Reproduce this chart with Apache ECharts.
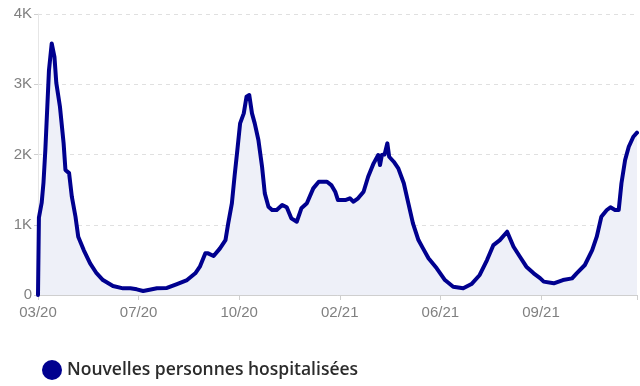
<!DOCTYPE html>
<html>
<head>
<meta charset="utf-8">
<script src="https://cdn.jsdelivr.net/npm/echarts@6/dist/echarts.min.js"></script>
<style>
html,body{margin:0;padding:0;background:#fff;}
#chart{width:640px;height:386px;}
</style>
</head>
<body>
<div id="chart"></div>
<script>
// Day index counted from the first day of the series (03/20)
const days = [0,1,4,6,8,10,12,15,18,20,24,28,30,34,37,41,44,50,57,64,71,82,93,101,108,115,122,130,141,152,163,172,177,183,186,192,199,205,208,212,215,218,221,225,228,231,234,237,241,245,248,252,256,261,267,272,277,283,288,294,301,307,316,321,325,328,336,341,345,350,356,361,367,372,374,376,379,382,384,389,394,400,405,410,416,421,427,436,445,454,465,474,483,491,498,505,513,520,527,534,542,549,553,564,574,584,589,591,598,606,611,616,622,626,631,635,638,642,646,651,655];
const hospitalisations = [0,1100,1310,1600,2060,2630,3200,3580,3390,3020,2680,2160,1780,1735,1400,1114,830,640,450,310,213,128,95,95,81,57,75,95,100,156,213,309,403,593,593,555,664,782,1020,1305,1700,2063,2443,2585,2822,2846,2585,2443,2206,1826,1447,1257,1210,1210,1281,1248,1091,1043,1234,1305,1518,1612,1612,1560,1470,1352,1352,1376,1328,1376,1470,1683,1874,1992,1850,1992,2000,2159,1968,1897,1803,1590,1305,1020,782,664,522,380,213,118,95,156,285,498,711,782,901,687,545,403,309,240,190,166,213,237,309,285,427,640,830,1114,1210,1248,1210,1210,1590,1921,2110,2253,2310];
const xTickLabels = ['03/20','07/20','10/20','02/21','06/21','09/21'];
const xTickStep = 110;
const xMax = 655;
const seriesName = 'Nouvelles personnes hospitalisées';

const data = days.map((d, i) => [d, hospitalisations[i]]);
const chart = echarts.init(document.getElementById('chart'));
chart.setOption({
  animation: false,
  grid: {left: 38, right: 3, top: 14, bottom: 91},
  legend: {
    left: 37, top: 355, icon: 'circle', itemWidth: 20, itemHeight: 20, itemGap: 6,
    textStyle: {color: '#2b2b2b', fontSize: 17.5, fontFamily: 'Open Sans', fontWeight: 600},
    data: [seriesName]
  },
  xAxis: {
    type: 'value', min: 0, max: xMax, interval: xTickStep,
    axisLine: {show: true, lineStyle: {color: '#cfcfcf'}},
    axisTick: {show: true, length: 5, lineStyle: {color: '#cfcfcf'}},
    splitLine: {show: false},
    axisLabel: {
      color: '#808080', fontSize: 15, fontFamily: 'Arial', margin: 10,
      formatter: v => (v % xTickStep === 0 && xTickLabels[v / xTickStep]) ? xTickLabels[v / xTickStep] : ''
    }
  },
  yAxis: {
    type: 'value', min: 0, max: 4000, interval: 1000,
    axisLine: {show: true, lineStyle: {color: '#e6e6e6'}},
    axisTick: {show: true, length: 4, lineStyle: {color: '#cfcfcf'}},
    splitLine: {show: true, lineStyle: {color: '#e0e0e0', type: [4, 4]}},
    axisLabel: {
      color: '#808080', fontSize: 15, fontFamily: 'Arial', margin: 6,
      formatter: v => v === 0 ? '0' : (v / 1000) + 'K'
    }
  },
  series: [{
    name: seriesName, type: 'line', data: data, showSymbol: false,
    itemStyle: {color: '#00008f'},
    lineStyle: {color: '#00008f', width: 4, join: 'round', cap: 'round'},
    areaStyle: {color: '#eef0f8', opacity: 1}
  }]
});
</script>
</body>
</html>
